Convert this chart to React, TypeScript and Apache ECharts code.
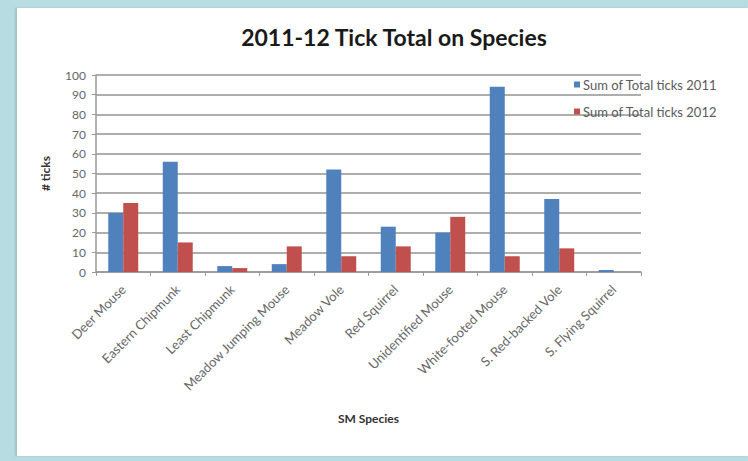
import React, { useEffect, useRef } from "react";
import * as echarts from "echarts";

const species = [
  "Deer Mouse",
  "Eastern Chipmunk",
  "Least Chipmunk",
  "Meadow Jumping Mouse",
  "Meadow Vole",
  "Red Squirrel",
  "Unidentified Mouse",
  "White-footed Mouse",
  "S. Red-backed Vole",
  "S. Flying Squirrel",
];
const ticks2011 = [30, 56, 3, 4, 52, 23, 20, 94, 37, 1];
const ticks2012 = [35, 15, 2, 13, 8, 13, 28, 8, 12, 0];
const seriesNames = ["Sum of Total ticks 2011", "Sum of Total ticks 2012"];

const FONT = "Lato, 'Open Sans', sans-serif";

export default function App() {
  const ref = useRef<HTMLDivElement>(null);

  useEffect(() => {
    document.body.style.margin = "0";
    const chart = echarts.init(ref.current!, undefined, { renderer: "svg" });
    chart.setOption({
      animation: false,
      textStyle: { fontFamily: FONT },
      title: {
        text: "2011-12 Tick Total on Species",
        left: 372,
        top: 12,
        textAlign: "center",
        textStyle: { fontSize: 23, fontWeight: "bold", color: "#1a1a1a", fontFamily: FONT },
      },
      legend: {
        orient: "vertical",
        left: 552,
        top: 65,
        itemWidth: 6,
        itemHeight: 6,
        itemGap: 14,
        icon: "rect",
        textStyle: { fontSize: 13, color: "#5a5a5a", fontFamily: FONT, padding: [0, 0, 0, -2] },
        data: seriesNames,
      },
      grid: { left: 79, right: 107, top: 67, bottom: 184 },
      xAxis: {
        type: "category",
        data: species,
        name: "SM Species",
        nameLocation: "middle",
        nameGap: 140,
        nameTextStyle: { fontSize: 12, fontWeight: "bold", color: "#333", fontFamily: FONT },
        axisLine: { lineStyle: { color: "#999", width: 1.5 } },
        axisTick: { show: true, length: 4, inside: false, lineStyle: { color: "#999" } },
        axisLabel: {
          rotate: 45,
          fontSize: 13,
          color: "#666",
          margin: 15,
          interval: 0,
          fontFamily: FONT,
        },
      },
      yAxis: {
        type: "value",
        min: 0,
        max: 100,
        interval: 10,
        name: "# ticks",
        nameLocation: "middle",
        nameGap: 45,
        nameRotate: 90,
        nameTextStyle: { fontSize: 12, fontWeight: "bold", color: "#333", fontFamily: FONT },
        axisLine: { show: true, lineStyle: { color: "#999", width: 1.5 } },
        axisTick: { show: true, length: 4, lineStyle: { color: "#999" } },
        axisLabel: { fontSize: 12, color: "#666", margin: 10, fontFamily: FONT },
        splitLine: { lineStyle: { color: "#939393", width: 1.5 } },
      },
      series: [
        {
          name: seriesNames[0],
          type: "bar",
          data: ticks2011,
          barGap: "0%",
          barCategoryGap: "45%",
          itemStyle: { color: "#4F81BD" },
        },
        {
          name: seriesNames[1],
          type: "bar",
          data: ticks2012,
          barGap: "0%",
          barCategoryGap: "45%",
          itemStyle: { color: "#C0504D" },
        },
      ],
    });
    return () => chart.dispose();
  }, []);

  return (
    <div
      style={{
        position: "fixed",
        inset: 0,
        width: 748,
        height: 461,
        background: "#b7dde2",
      }}
    >
      <div
        style={{
          position: "absolute",
          left: 17,
          top: 8,
          width: 731,
          height: 448,
          background: "#ffffff",
          boxShadow: "-2px 0 2px rgba(120,140,140,0.35)",
        }}
      >
        <div ref={ref} style={{ width: 731, height: 448 }} />
      </div>
    </div>
  );
}
